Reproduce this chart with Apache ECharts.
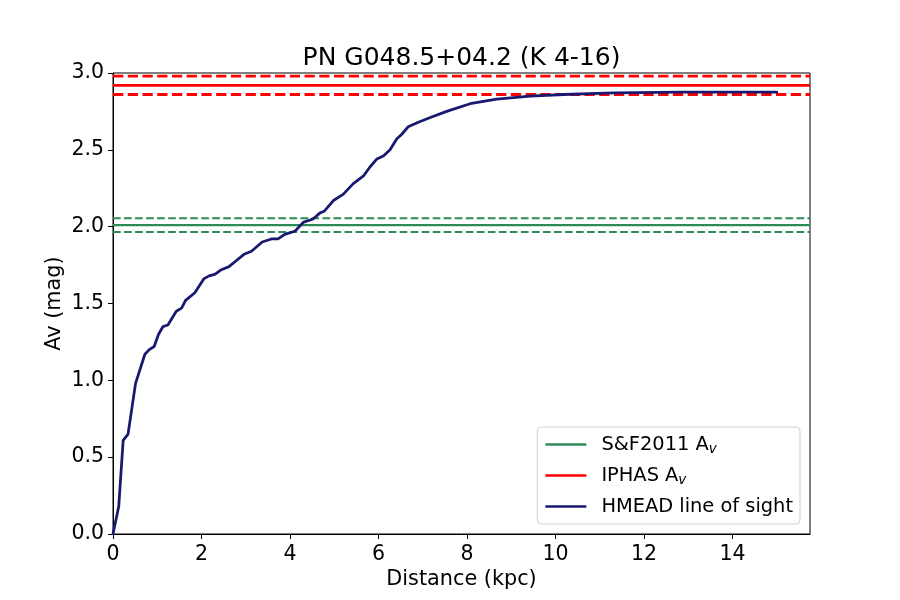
<!DOCTYPE html>
<html>
<head>
<meta charset="utf-8">
<script src="https://cdn.jsdelivr.net/npm/echarts@6/dist/echarts.min.js"></script>
<style>html,body{margin:0;padding:0;background:#fff}#c{width:900px;height:600px}</style>
</head>
<body>
<div id="c"></div>
<script>
// HMEAD line of sight (distance in kpc, Av in mag)
var distKpc = [0, 0.13, 0.23, 0.34, 0.51, 0.72, 0.82, 0.93, 1.03, 1.13, 1.24, 1.43, 1.55, 1.64, 1.85, 2.05, 2.17, 2.30, 2.45, 2.62, 2.79, 2.96, 3.13, 3.37, 3.58, 3.73, 3.88, 4.11, 4.31, 4.52, 4.68, 4.77, 4.98, 5.20, 5.43, 5.66, 5.81, 5.96, 6.11, 6.26, 6.41, 6.52, 6.67, 6.90, 7.17, 7.54, 8.07, 8.67, 9.43, 10.18, 11.31, 12.82, 15.0];
var avMag = [0.0, 0.18, 0.61, 0.65, 0.98, 1.17, 1.20, 1.22, 1.30, 1.35, 1.36, 1.45, 1.47, 1.52, 1.57, 1.66, 1.68, 1.69, 1.72, 1.74, 1.78, 1.82, 1.84, 1.90, 1.92, 1.92, 1.95, 1.97, 2.03, 2.05, 2.09, 2.10, 2.17, 2.21, 2.28, 2.33, 2.39, 2.44, 2.46, 2.50, 2.57, 2.60, 2.65, 2.68, 2.71, 2.75, 2.80, 2.83, 2.85, 2.86, 2.87, 2.875, 2.875];
// Reference extinction values with uncertainties
var sfAv = 2.01, sfErr = 0.045;
var iphasAv = 2.92, iphasErr = 0.06;
var xTicks = [0, 2, 4, 6, 8, 10, 12, 14];
var yTicks = [0, 0.5, 1.0, 1.5, 2.0, 2.5, 3.0];
var xMax = 15.75;

var FONT = 'DejaVu Sans';
var hmead = distKpc.map(function (d, i) { return [d, avMag[i]]; });
function hline(v) { return [[0, v], [xMax, v]]; }

function refSeries(name, v, color, w, dashed) {
  return {
    name: name, type: 'line', data: hline(v), symbol: 'none', silent: true,
    lineStyle: { color: color, width: w, type: dashed ? [w * 3.7, w * 1.6] : 'solid' },
    itemStyle: { color: color }, z: 2
  };
}

var chart = echarts.init(document.getElementById('c'), null, { renderer: 'canvas' });
chart.setOption({
  animation: false,
  backgroundColor: '#fff',
  title: {
    text: 'PN G048.5+04.2 (K 4-16)',
    left: 456.5, top: 41, textAlign: 'center',
    textStyle: { fontFamily: FONT, fontSize: 25, fontWeight: 'normal', color: '#000' }
  },
  grid: { left: 113, right: 90, top: 73, bottom: 66, show: true, borderColor: '#000', borderWidth: 1, backgroundColor: 'transparent' },
  legend: {
    orient: 'vertical', right: 100, bottom: 76,
    data: [
      { name: 'S&F2011 A_v', icon: 'rect' },
      { name: 'IPHAS A_v', icon: 'rect' },
      { name: 'HMEAD line of sight', icon: 'rect' }
    ],
    itemWidth: 41, itemHeight: 2.6, itemGap: 10,
    padding: [8, 7, 8, 8],
    borderColor: '#d0d0d0', borderWidth: 1, borderRadius: 4,
    backgroundColor: 'rgba(255,255,255,0.8)',
    formatter: function (n) {
      if (n.indexOf('A_v') >= 0) return '{t|' + n.replace(' A_v', ' A') + '}{s|v}';
      return '{t|' + n + '}';
    },
    textStyle: {
      fontFamily: FONT, fontSize: 19.4, color: '#000', padding: [0, 0, 0, 10],
      rich: {
        t: { fontFamily: FONT, fontSize: 19.4, color: '#000', lineHeight: 22 },
        s: { fontFamily: FONT, fontSize: 13.5, fontStyle: 'italic', color: '#000', padding: [9, 0, 0, 0] }
      }
    }
  },
  xAxis: {
    type: 'value', min: 0, max: xMax,
    name: 'Distance (kpc)', nameLocation: 'middle', nameGap: 35, nameMoveOverlap: false,
    nameTextStyle: { fontFamily: FONT, fontSize: 20.8, color: '#000' },
    axisLine: { show: true, lineStyle: { color: '#000', width: 1 } },
    axisTick: { show: true, inside: false, length: 5, customValues: xTicks, lineStyle: { color: '#000' } },
    axisLabel: { customValues: xTicks, margin: 10, fontFamily: FONT, fontSize: 20.5, color: '#000' },
    splitLine: { show: false }
  },
  yAxis: {
    type: 'value', min: 0, max: 3, interval: 0.5,
    name: 'Av (mag)', nameLocation: 'middle', nameGap: 48, nameMoveOverlap: false,
    nameTextStyle: { fontFamily: FONT, fontSize: 20.8, color: '#000' },
    axisLine: { show: true, lineStyle: { color: '#000', width: 1 } },
    axisTick: { show: true, inside: false, length: 5, customValues: yTicks, lineStyle: { color: '#000' } },
    axisLabel: { customValues: yTicks, margin: 9, fontFamily: FONT, fontSize: 20.5, color: '#000',
      formatter: function (v) { return v.toFixed(1); } },
    splitLine: { show: false }
  },
  series: [
    refSeries('S&F2011 A_v', sfAv, '#2e8b57', 2.08, false),
    refSeries('sf_hi', sfAv + sfErr, '#2e8b57', 2.08, true),
    refSeries('sf_lo', sfAv - sfErr, '#2e8b57', 2.08, true),
    refSeries('IPHAS A_v', iphasAv, '#ff0000', 2.78, false),
    refSeries('iphas_hi', iphasAv + iphasErr, '#ff0000', 2.78, true),
    refSeries('iphas_lo', iphasAv - iphasErr, '#ff0000', 2.78, true),
    {
      name: 'HMEAD line of sight', type: 'line', data: hmead, symbol: 'none', silent: true,
      lineStyle: { color: '#191970', width: 2.78, join: 'round', cap: 'round' },
      itemStyle: { color: '#191970' }, z: 3
    }
  ]
});
</script>
</body>
</html>
